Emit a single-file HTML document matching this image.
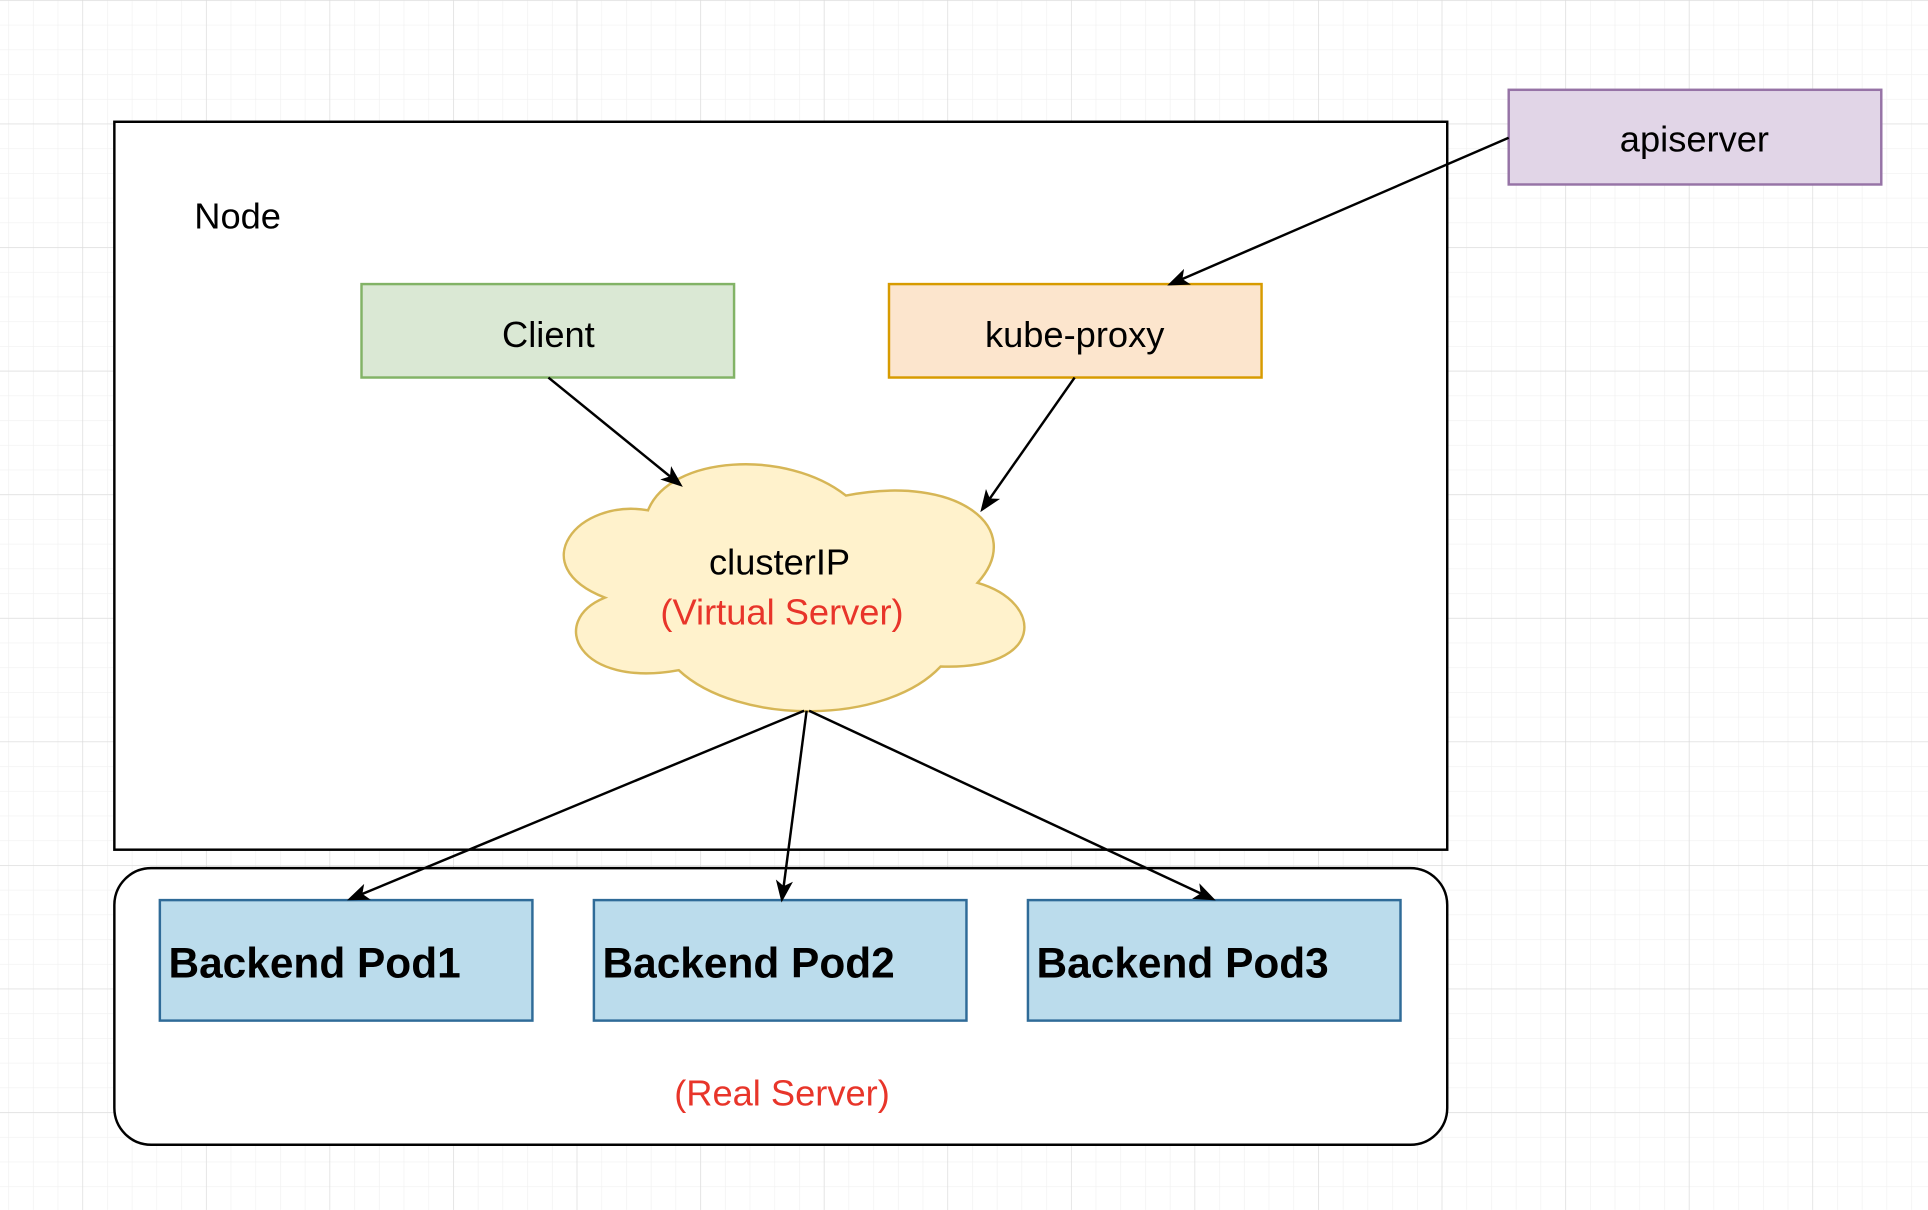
<!DOCTYPE html>
<html><head><meta charset="utf-8"><style>
html,body{margin:0;padding:0;background:#fff;}
svg{display:block;}
text{font-family:"Liberation Sans",Arial,sans-serif;}
</style></head><body>
<svg width="1928" height="1210" viewBox="0 0 1568 984" xmlns="http://www.w3.org/2000/svg">
<defs>
<pattern id="minor" width="20.1" height="20.1" patternUnits="userSpaceOnUse" x="6.7" y="0">
<path d="M0 0H20.1M0 0V20.1" fill="none" stroke="#f0f0f0" stroke-width="1"/>
</pattern>
<pattern id="major" width="100.5" height="100.5" patternUnits="userSpaceOnUse" x="67" y="0">
<path d="M0 0H100.5M0 0V100.5" fill="none" stroke="#dadada" stroke-width="1"/>
</pattern>
<marker id="ar" markerWidth="18" markerHeight="18" refX="15" refY="9" orient="auto" markerUnits="userSpaceOnUse" viewBox="0 0 18 18">
<path d="M0 2 L18 9 L0 16 L4.5 9 Z" fill="#000"/>
</marker>
</defs>
<rect width="1568" height="984" fill="#fff"/>
<rect width="1568" height="984" fill="url(#minor)"/>
<rect width="1568" height="984" fill="url(#major)"/>

<rect x="93" y="99" width="1084" height="592" fill="#fff" stroke="#000" stroke-width="2"/>
<text x="158" y="186" font-size="29.5">Node</text>

<rect x="93" y="706" width="1084" height="225" rx="30" fill="#fff" stroke="#000" stroke-width="2"/>

<rect x="294" y="231" width="303" height="76" fill="#dae8d4" stroke="#82b366" stroke-width="2"/>
<text x="446" y="282" font-size="29.5" text-anchor="middle">Client</text>
<rect x="723" y="231" width="303" height="76" fill="#fce5cd" stroke="#d79b00" stroke-width="2"/>
<text x="874" y="282" font-size="29.5" text-anchor="middle">kube-proxy</text>
<rect x="1227" y="73" width="303" height="77" fill="#e1d5e7" stroke="#9673a6" stroke-width="2"/>
<text x="1378" y="123" font-size="29.5" text-anchor="middle">apiserver</text>

<path d="M527,415 C470,405 425,460 492,486 C445,505 470,560 552,545 C600,590 720,590 765,542 C850,545 850,490 795,474 C835,430 780,385 688,403 C640,365 545,370 527,415 Z" fill="#fff2cc" stroke="#d6b656" stroke-width="2"/>
<text x="634" y="467" font-size="29.5" text-anchor="middle">clusterIP</text>
<text x="636" y="508" font-size="29.5" text-anchor="middle" fill="#e8352a">(Virtual Server)</text>

<rect x="130" y="732" width="303" height="98" fill="#bbdcec" stroke="#2f6b98" stroke-width="2"/>
<text x="137" y="795" font-size="34.5" font-weight="bold">Backend Pod1</text>
<rect x="483" y="732" width="303" height="98" fill="#bbdcec" stroke="#2f6b98" stroke-width="2"/>
<text x="490" y="795" font-size="34.5" font-weight="bold">Backend Pod2</text>
<rect x="836" y="732" width="303" height="98" fill="#bbdcec" stroke="#2f6b98" stroke-width="2"/>
<text x="843" y="795" font-size="34.5" font-weight="bold">Backend Pod3</text>

<text x="636" y="899" font-size="29.5" text-anchor="middle" fill="#e8352a">(Real Server)</text>

<g stroke="#000" stroke-width="2" fill="none" marker-end="url(#ar)">
<line x1="1227" y1="112" x2="952" y2="231"/>
<line x1="446" y1="307" x2="553" y2="394"/>
<line x1="874" y1="307" x2="799" y2="414"/>
<line x1="654" y1="578" x2="285" y2="731"/>
<line x1="656" y1="578" x2="636" y2="731"/>
<line x1="658" y1="578" x2="986" y2="731"/>
</g>
</svg>
</body></html>
